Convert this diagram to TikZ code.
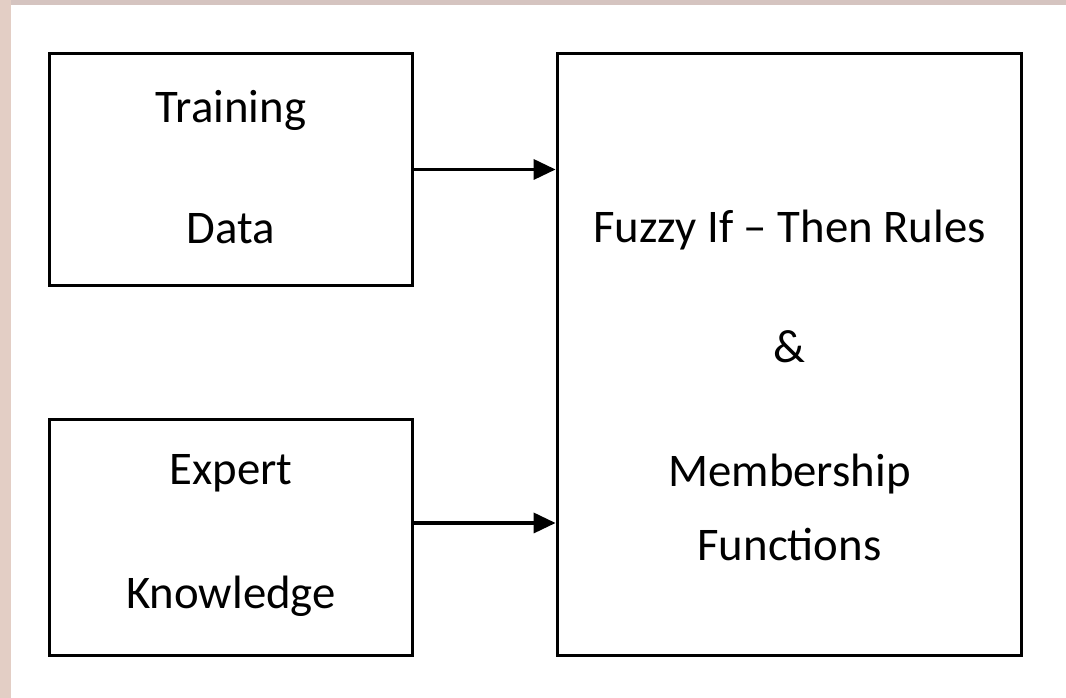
\documentclass[tikz,border=0pt]{standalone}
\usepackage{fontspec}
\setmainfont{Carlito}
\usepackage{tikz}
\usetikzlibrary{calc,shapes,positioning}
\usetikzlibrary{arrows.meta}
\tikzset{>={Triangle[width=2mm,length=2.2mm]}}
\definecolor{rimtop}{HTML}{D5C4C0}
\definecolor{rimleft}{HTML}{E3CEC5}

\begin{document}
\begin{tikzpicture}[x=0.01cm,y=-0.01cm]
        \tikzstyle{bnode} = [line width=1pt, draw=black, rectangle, inner sep = 0pt, text depth = 0pt, font=\fontsize{13.3}{16}\selectfont]

        \useasboundingbox (0,0) rectangle (1066,698);
        \fill[white] (0,0) rectangle (1066,698);
        \fill[rimtop] (0,0) rectangle (1066,5);
        \fill[rimleft] (0,0) rectangle (11,698);

        \node[bnode, minimum width=3.63cm, minimum height=2.32cm, text height=1.47cm] (train) at (231,169.5) {\begin{tabular}[b]{@{}c@{}}Training \\[18.4pt] Data \end{tabular}};
        \node[bnode, minimum width=3.63cm, minimum height=2.36cm, text height=1.41cm] (expert) at (231,537.5) {\begin{tabular}[b]{@{}c@{}}Expert \\[19pt] Knowledge \end{tabular}};
        \node[bnode, minimum width=4.64cm, minimum height=6.02cm, text height=4.11cm] (rules) at (789.5,354.5) {\begin{tabular}[b]{@{}c@{}}Fuzzy If – Then Rules \\[18.1pt] \& \\[19.3pt] Membership \\[4.8pt] Functions \end{tabular}};

        \coordinate (expout) at ($(expert.east)+(0,-14.5)$);

        \draw[->, line width=1pt] (train.east) -- (train.east -| rules.west);
        \draw[->, line width=1pt] (expout) -- (expout -| rules.west);
\end{tikzpicture}
\end{document}
